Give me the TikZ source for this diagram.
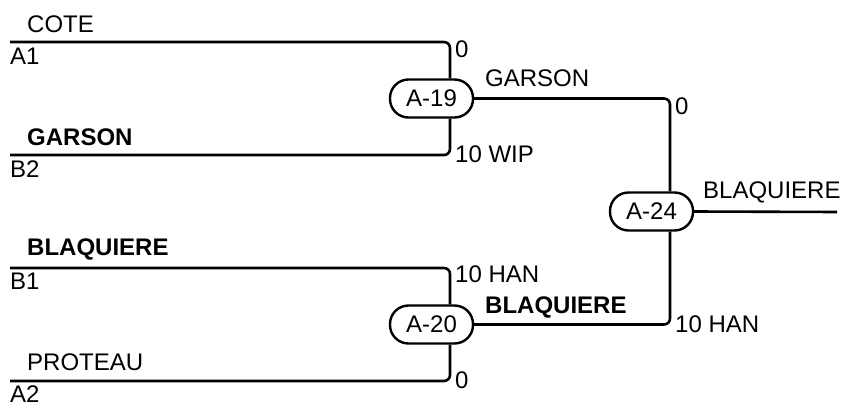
\documentclass[tikz,border=0pt]{standalone}
\usepackage{fontspec}
\setmainfont{Liberation Sans}
\begin{document}
\begin{tikzpicture}[x=1pt,y=-1pt,
  every node/.style={font=\fontsize{24}{28}\selectfont},
  match/.style={draw,line width=2.4pt,rounded corners=18.5pt,minimum width=83pt,minimum height=38pt,inner sep=0pt},
  wire/.style={line width=2.6pt,rounded corners=6pt},
  lbl/.style={anchor=base west,inner sep=0pt},
  blbl/.style={anchor=base west,inner sep=0pt,font=\fontsize{24}{28}\selectfont\bfseries}]
\useasboundingbox (0,0) rectangle (846,403);
% matches
\node[match] (m19) at (431.5,98.5) {A-19};
\node[match] (m20) at (431.5,324.5) {A-20};
\node[match] (m24) at (651.5,211.5) {A-24};
% free ends
\coordinate (a1) at (10,42);
\coordinate (b2) at (10,155);
\coordinate (b1) at (10,268);
\coordinate (a2) at (10,381);
\coordinate (win) at (837,212);
% wires
\draw[wire] (a1) -| ([xshift=18.5pt]m19.north);
\draw[wire] (b2) -| ([xshift=18.5pt]m19.south);
\draw[wire] (b1) -| ([xshift=18.5pt]m20.north);
\draw[wire] (a2) -| ([xshift=18.5pt]m20.south);
\draw[wire] ([xshift=-1pt]m19.east) -| ([xshift=18.5pt]m24.north);
\draw[wire] ([xshift=-1pt]m20.east) -| ([xshift=18.5pt]m24.south);
\draw[wire] ([xshift=-1pt]m24.east) -- (win);
% left labels
\node[lbl] (tcote) at (27,33) {COTE};
\node[lbl] (ta1) at (10,65) {A1};
\node[blbl] (tgarson) at (27,146) {GARSON};
\node[lbl] (tb2) at (10,178) {B2};
\node[blbl] (tblaq) at (27,256) {BLAQUIERE};
\node[lbl] (tb1) at (10,290) {B1};
\node[lbl] (tprot) at (27,370) {PROTEAU};
\node[lbl] (ta2) at (10,402) {A2};
% score labels
\node[lbl] (s1) at (455,58) {0};
\node[lbl] (s2) at (455,163) {10 WIP};
\node[lbl] (s3) at (455,283) {10 HAN};
\node[lbl] (s4) at (455,388) {0};
\node[lbl] (s5) at (675,115) {0};
\node[lbl] (s6) at (675,332) {10 HAN};
% winners
\node[lbl] (w19) at (485,87) {GARSON};
\node[blbl] (w20) at (485,313) {BLAQUIERE};
\node[lbl] (w24) at (703,199) {BLAQUIERE};
\end{tikzpicture}
\end{document}
